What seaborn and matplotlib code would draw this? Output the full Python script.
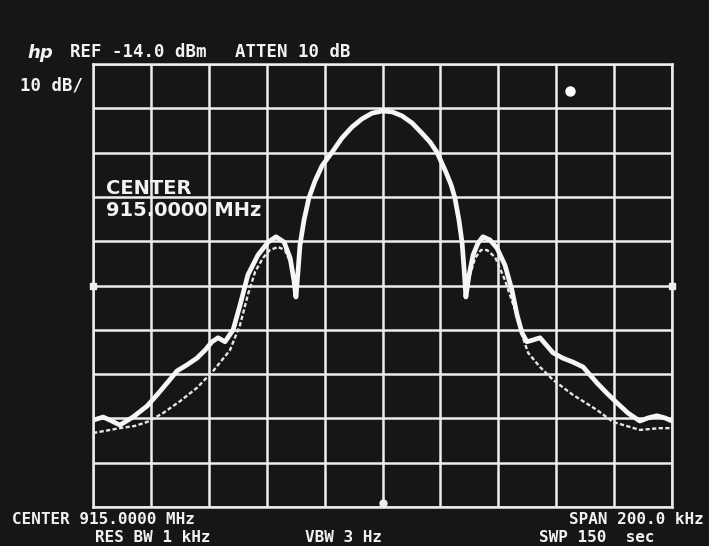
import numpy as np
import pandas as pd
import matplotlib
matplotlib.use("Agg")
import matplotlib.pyplot as plt
import seaborn as sns

# ---- data: frequency offset from 915.0000 MHz (kHz) and level (dBm) ----
freq_thick = [-100.0, -96.5, -94.1, -90.7, -86.2, -81.3, -77.9, -74.4, -71.0, -67.5,
              -64.1, -61.3, -58.9, -56.8, -54.4, -51.6, -49.2, -46.5, -43.0, -39.5,
              -36.8, -34.0, -31.9, -30.6, -29.9, -29.2, -28.5, -27.1, -25.4, -23.3,
              -20.9, -17.4, -14.0, -10.5, -7.1, -3.6, 0.0, 3.3, 6.7, 10.2,
              13.6, 16.4, 18.8, 21.9, 23.7, 25.0, 26.4, 27.5, 28.2, 28.8,
              29.9, 31.3, 33.0, 34.7, 37.1, 39.5, 42.3, 44.7, 46.5, 48.2,
              49.9, 52.0, 54.4, 56.8, 58.9, 62.3, 65.8, 69.3, 71.7, 74.1,
              77.5, 81.0, 84.8, 88.9, 91.7, 94.8, 97.6, 100.0]
level_thick = [-94.4, -93.7, -94.4, -95.5, -93.7, -91.2, -88.7, -86.0, -83.3, -81.9,
               -80.4, -78.6, -76.7, -75.8, -76.7, -74.0, -68.4, -61.6, -57.1, -54.2,
               -53.0, -54.2, -57.8, -62.8, -66.6, -61.0, -54.9, -49.2, -44.2, -40.4,
               -37.0, -33.9, -30.7, -28.2, -26.4, -25.1, -24.6, -24.8, -25.7, -27.3,
               -29.6, -31.6, -33.9, -38.4, -41.3, -44.2, -49.2, -54.4, -60.5, -66.6,
               -61.6, -57.1, -54.4, -53.0, -53.7, -55.5, -59.4, -65.0, -70.7, -74.7,
               -76.7, -76.3, -75.8, -77.6, -79.2, -80.4, -81.3, -82.4, -84.2, -86.0,
               -88.3, -90.5, -92.8, -94.6, -93.9, -93.4, -93.9, -94.6]

freq_thin = [-100.0, -94.1, -90.7, -85.5, -81.3, -75.8, -69.9, -64.1, -58.5, -52.7,
             -49.2, -46.5, -44.0, -41.3, -38.9, -36.1, -33.7, -31.9, -30.6, -29.9,
             -29.2, -28.5, -27.1, -25.4, -23.3, -20.9, -17.4, -14.0, -10.5, -7.1,
             -3.6, 0.0, 3.3, 6.7, 10.2, 13.6, 16.4, 18.8, 21.9, 23.7,
             25.0, 26.4, 27.5, 28.2, 28.8, 30.2, 32.0, 34.0, 36.1, 38.9,
             42.3, 45.8, 48.2, 50.3, 54.4, 58.9, 65.8, 74.1, 79.6, 88.9,
             95.8, 100.0]
level_thin = [-97.3, -96.6, -96.2, -95.7, -94.8, -92.8, -90.1, -87.1, -83.3, -78.6,
              -72.9, -66.1, -60.9, -57.8, -56.0, -55.3, -56.0, -58.7, -63.4, -66.6,
              -61.0, -54.9, -49.2, -44.2, -40.4, -37.0, -33.9, -30.7, -28.2, -26.4,
              -25.1, -24.6, -24.8, -25.7, -27.3, -29.6, -31.6, -33.9, -38.4, -41.3,
              -44.2, -49.2, -54.4, -60.5, -66.6, -61.6, -57.8, -56.0, -56.0, -57.6,
              -62.8, -69.5, -75.2, -79.2, -82.4, -85.3, -88.7, -92.1, -94.8, -96.6,
              -96.2, -96.2]

x_ticks = list(range(-100, 101, 20))
y_ticks = list(range(-114, -13, 10))

BG = "#161616"
FG = "#ededed"

sns.set_theme(style="dark")
plt.rcParams["font.family"] = ["DejaVu Sans Mono", "DejaVu Sans"]

W, H = 709, 546
fig = plt.figure(figsize=(W / 100, H / 100), dpi=100, facecolor=BG)
ax = fig.add_axes([93 / W, 1 - 507 / H, 579 / W, 443 / H])
ax.set_facecolor(BG)

thin_df = pd.DataFrame({"freq": freq_thin, "level": level_thin})
thick_df = pd.DataFrame({"freq": freq_thick, "level": level_thick})

sns.lineplot(data=thin_df, x="freq", y="level", ax=ax, color="#e6e6e6",
             linewidth=1.7, linestyle=(0, (1.8, 1.0)), sort=False, estimator=None,
             zorder=3)
sns.lineplot(data=thick_df, x="freq", y="level", ax=ax, color="#f6f6f6",
             linewidth=3.4, sort=False, estimator=None, zorder=4,
             solid_joinstyle="round", solid_capstyle="round")

ax.set_xlim(-100, 100)
ax.set_ylim(-114, -14)
ax.set_xticks(x_ticks)
ax.set_yticks(y_ticks)
ax.set_axisbelow(True)
ax.grid(True, color=FG, linewidth=1.8)
ax.tick_params(length=0, labelbottom=False, labelleft=False)
ax.set_xlabel("")
ax.set_ylabel("")
for s in ax.spines.values():
    s.set_color(FG)
    s.set_linewidth(1.8)

# instrument indicators
ax.plot([0.5], [0.008], transform=ax.transAxes, marker="o", ms=5, color=FG,
        clip_on=False, zorder=5)
ax.plot([0.823], [0.94], transform=ax.transAxes, marker="o", ms=6.5, color="#ffffff",
        clip_on=False, zorder=5)
for xa in (0.0, 1.0):
    ax.plot([xa], [0.5], transform=ax.transAxes, marker="s", ms=4, color=FG,
            clip_on=False, zorder=5)


def label(x, y, s, size=12, ha="left", **kw):
    fig.text(x / W, 1 - y / H, s, ha=ha, va="center", color="#f2f2f2",
             fontsize=size, fontweight="bold", **kw)


label(27, 53, "hp", size=13, style="italic", family="DejaVu Sans")
label(70, 52, "REF -14.0 dBm", size=12.5)
label(235, 52, "ATTEN 10 dB", size=12.5)
label(20, 86, "10 dB/", size=12.5)

label(106, 188, "CENTER", size=14, family="DejaVu Sans")
label(106, 211, "915.0000 MHz", size=14, family="DejaVu Sans")

label(12, 519, "CENTER 915.0000 MHz", size=11.5)
label(704, 519, "SPAN 200.0 kHz", size=11.5, ha="right")
label(95, 538, "RES BW 1 kHz", size=11.5)
label(305, 538, "VBW 3 Hz", size=11.5)
label(539, 538, "SWP 150  sec", size=11.5)

fig.savefig("out.png", dpi=100, facecolor=BG)
